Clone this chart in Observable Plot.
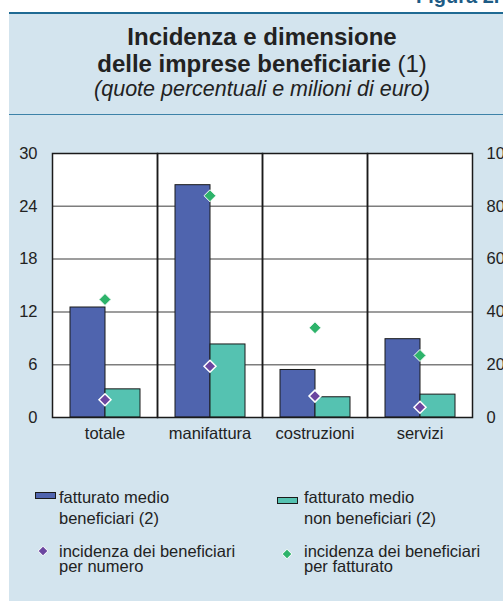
<!DOCTYPE html>
<html>
<head>
<meta charset="utf-8">
<script src="https://cdn.jsdelivr.net/npm/d3@7"></script>
<script src="https://cdn.jsdelivr.net/npm/@observablehq/plot@0.6"></script>
<style>
  html, body { margin:0; padding:0; width:503px; height:601px; overflow:hidden; background:#fff; }
  body { position:relative; font-family:"Liberation Sans", Arial, sans-serif; color:#222; }
  .abs { position:absolute; white-space:nowrap; }
  #panel { position:absolute; left:9px; top:14px; width:520px; height:600px; background:#D3E4EE; }
  #topline { position:absolute; left:9px; top:12px; width:520px; height:2px; background:#1F6A93; }
  #sepline { position:absolute; left:9px; top:114px; width:520px; height:1.3px; background:#3D82A8; }
  #figura { left:416px; top:-14px; font-size:20px; font-weight:bold; color:#1D5B85; line-height:20px; }
  #title { left:9px; width:506px; top:23px; text-align:center; font-size:24px; line-height:27px; font-weight:bold; }
  #title .n { font-weight:normal; }
  #subtitle { left:9px; width:506px; top:79px; text-align:center; font-size:21.5px; line-height:21.5px; font-style:italic; }
  #chart { position:absolute; left:9px; top:130px; }
  .leg { font-size:16.5px; }
  .l1 { line-height:21px; }
  .l2 { line-height:15px; }
</style>
</head>
<body>
<div id="panel"></div>
<div id="topline"></div>
<div id="sepline"></div>
<div class="abs" id="figura">Figura 2.</div>
<div class="abs" id="title">Incidenza e dimensione<br>delle imprese beneficiarie <span class="n">(1)</span></div>
<div class="abs" id="subtitle">(quote percentuali e milioni di euro)</div>
<div id="chart"></div>
<div id="legend"></div>
<script>
const categories = ["totale", "manifattura", "costruzioni", "servizi"];
const fatturatoBeneficiari = [12.5, 26.4, 5.4, 8.9];
const fatturatoNonBeneficiari = [3.2, 8.3, 2.3, 2.6];
const incidenzaNumero = [6.7, 19.4, 8.1, 3.9];
const incidenzaFatturato = [44.7, 84.0, 34.0, 23.5];
const leftTicks = [0, 6, 12, 18, 24, 30];
const rightTicks = [0, 20, 40, 60, 80, 100];
const seriesKeys = ["ben", "non"];
const seriesLabels = ["fatturato medio\nbeneficiari (2)", "fatturato medio\nnon beneficiari (2)"];
const pointLabels = ["incidenza dei beneficiari\nper numero", "incidenza dei beneficiari\nper fatturato"];
const barColors = ["#4F64AE", "#55C2B1"];
const numColor = "#6B46A0";
const fatColor = "#2DB36A";

const k = leftTicks[leftTicks.length - 1] / rightTicks[rightTicks.length - 1];

const bars = categories.flatMap((c, i) => [
  {cat: c, s: seriesKeys[0], v: fatturatoBeneficiari[i]},
  {cat: c, s: seriesKeys[1], v: fatturatoNonBeneficiari[i]}
]);
const pts = categories.map((c, i) => ({cat: c, num: incidenzaNumero[i], fat: incidenzaFatturato[i]}));

const chart = Plot.plot({
  width: 494, height: 320,
  marginLeft: 42, marginRight: 30, marginTop: 23, marginBottom: 33,
  style: {background: "transparent", fontFamily: "Liberation Sans, Arial, sans-serif", fontSize: "16.5px", color: "#222", overflow: "visible"},
  fx: {domain: categories, padding: 0, label: null},
  x: {domain: seriesKeys, paddingInner: 0, paddingOuter: 0.465, axis: null},
  y: {domain: [leftTicks[0], leftTicks[leftTicks.length - 1]], label: null},
  color: {domain: seriesKeys, range: barColors},
  marks: [
    Plot.frame({fill: "white", stroke: "none"}),
    Plot.ruleY(leftTicks.slice(1, -1), {stroke: "#7d7d7d", strokeWidth: 1.5}),
    Plot.barY(bars, {fx: "cat", x: "s", y: "v", fill: "s", stroke: "#1a1a1a", strokeWidth: 1, inset: 0}),
    Plot.frame({stroke: "#1a1a1a", strokeWidth: 1.5}),
    Plot.dot(pts, {fx: "cat", y: d => d.fat * k, symbol: "diamond2", r: 5.4, fill: fatColor, stroke: "white", strokeWidth: 1}),
    Plot.dot(pts, {fx: "cat", y: d => d.num * k, symbol: "diamond2", r: 5.4, fill: numColor, stroke: "white", strokeWidth: 1.5}),
    Plot.axisY({anchor: "left", ticks: leftTicks, tickSize: 0, tickPadding: 15, label: null}),
    Plot.axisY({anchor: "right", ticks: rightTicks.map(v => v * k), tickFormat: d => String(Math.round(d / k)), tickSize: 0, tickPadding: 14, label: null}),
    Plot.axisFx({anchor: "bottom", tickSize: 0, tickPadding: 10, label: null})
  ]
});
document.getElementById("chart").appendChild(chart);

// Legend (HTML)
const legend = document.getElementById("legend");
function addText(txt, left, top, cls) {
  const d = document.createElement("div");
  d.className = "abs leg " + cls;
  d.style.left = left + "px";
  d.style.top = top + "px";
  d.innerHTML = txt.split("\n").join("<br>");
  legend.appendChild(d);
}
function addRect(color, left, top) {
  const d = document.createElement("div");
  d.className = "abs";
  Object.assign(d.style, {left: left + "px", top: top + "px", width: "19px", height: "5px", background: color, border: "1px solid #1a1a1a"});
  legend.appendChild(d);
}
function addDiamond(color, cx, cy) {
  const ns = "http://www.w3.org/2000/svg";
  const s = document.createElementNS(ns, "svg");
  s.setAttribute("width", 14); s.setAttribute("height", 14);
  s.style.position = "absolute"; s.style.left = (cx - 7) + "px"; s.style.top = (cy - 7) + "px";
  const p = document.createElementNS(ns, "path");
  p.setAttribute("d", "M7,2.2L11.8,7L7,11.8L2.2,7Z");
  p.setAttribute("fill", color); p.setAttribute("stroke", "white"); p.setAttribute("stroke-width", "1");
  s.appendChild(p);
  legend.appendChild(s);
}
addRect(barColors[0], 35, 492);
addText(seriesLabels[0], 59, 487, "l1");
addRect(barColors[1], 277, 497);
addText(seriesLabels[1], 304, 487, "l1");
addDiamond(numColor, 43, 551);
addText(pointLabels[0], 59, 544, "l2");
addDiamond(fatColor, 287, 554);
addText(pointLabels[1], 304, 544, "l2");
</script>
</body>
</html>
